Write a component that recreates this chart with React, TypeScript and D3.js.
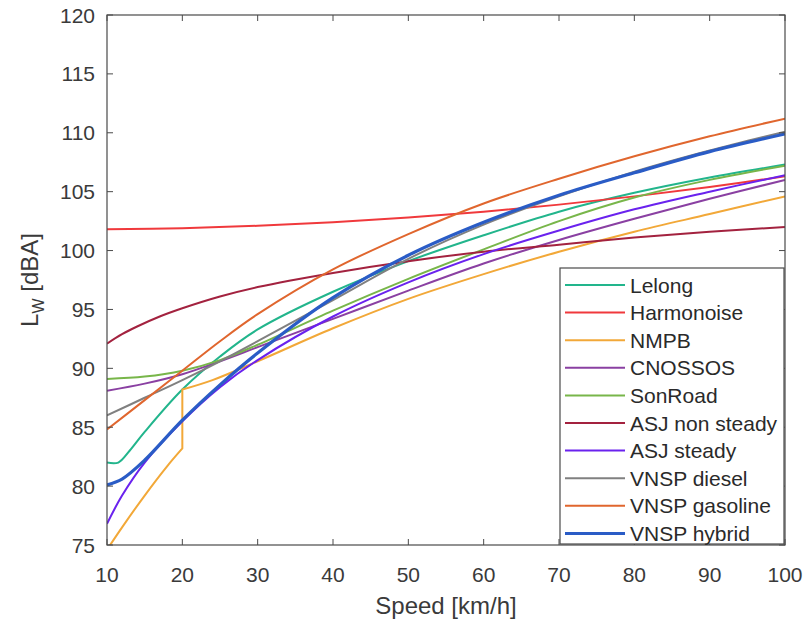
import React from 'react'
import * as d3 from 'd3'

type Pt = [number, number]

// [speed km/h, Lw dBA]
const lelong: Pt[] = [[10, 82.0], [11.5, 82.0], [13, 83.0], [15, 84.6], [20, 88.2], [25, 91.0], [30, 93.3], [40, 96.5], [50, 99.1], [60, 101.3], [70, 103.3], [80, 104.9], [90, 106.2], [100, 107.3]]
const harmonoise: Pt[] = [[10, 101.8], [20, 101.9], [30, 102.1], [40, 102.4], [50, 102.8], [60, 103.3], [70, 103.9], [80, 104.6], [90, 105.4], [100, 106.3]]
const nmpbLow: Pt[] = [[10, 74.6], [12, 76.5], [15, 79.2], [18, 81.7], [20, 83.2]]
const nmpbHigh: Pt[] = [[20, 88.2], [24, 89.0], [30, 90.6], [40, 93.4], [50, 95.9], [60, 98.0], [70, 99.9], [80, 101.6], [90, 103.1], [100, 104.6]]
const cnossos: Pt[] = [[10, 88.1], [15, 88.7], [20, 89.5], [25, 90.6], [30, 91.8], [40, 94.2], [50, 96.6], [60, 98.9], [70, 100.9], [80, 102.7], [90, 104.4], [100, 106.0]]
const sonRoad: Pt[] = [[10, 89.1], [15, 89.3], [20, 89.8], [25, 90.7], [30, 92.0], [40, 94.9], [50, 97.6], [60, 100.1], [70, 102.5], [80, 104.5], [90, 106.0], [100, 107.2]]
const asjNonSteady: Pt[] = [[10, 92.1], [12, 92.9], [14, 93.55], [17, 94.4], [20, 95.1], [25, 96.1], [30, 96.9], [40, 98.1], [50, 99.1], [60, 99.9], [70, 100.5], [80, 101.1], [90, 101.6], [100, 102.0]]
const asjSteady: Pt[] = [[10, 76.8], [12, 79.2], [15, 82.0], [20, 85.5], [25, 88.4], [30, 90.7], [40, 94.4], [50, 97.3], [60, 99.7], [70, 101.7], [80, 103.5], [90, 105.0], [100, 106.4]]
const vnspDiesel: Pt[] = [[10, 86.0], [15, 87.5], [20, 89.0], [25, 90.6], [30, 92.3], [40, 95.8], [50, 99.3], [60, 102.2], [70, 104.6], [80, 106.7], [90, 108.5], [100, 110.1]]
const vnspGasoline: Pt[] = [[10, 84.8], [15, 87.3], [20, 89.8], [25, 92.3], [30, 94.6], [40, 98.4], [50, 101.4], [60, 104.0], [70, 106.1], [80, 108.0], [90, 109.7], [100, 111.2]]
const vnspHybrid: Pt[] = [[10, 80.1], [12, 80.6], [15, 82.2], [20, 85.6], [25, 88.6], [30, 91.3], [40, 96.0], [50, 99.6], [60, 102.4], [70, 104.7], [80, 106.6], [90, 108.4], [100, 109.9]]

const seriesNames = ['Lelong', 'Harmonoise', 'NMPB', 'CNOSSOS', 'SonRoad', 'ASJ non steady', 'ASJ steady', 'VNSP diesel', 'VNSP gasoline', 'VNSP hybrid']
const seriesColors = ['#22b58c', '#f0393c', '#f2a838', '#8a40a2', '#78b64a', '#a3223f', '#6a22ee', '#808080', '#e0662e', '#2a5cc6']
const seriesData: Pt[][][] = [[lelong], [harmonoise], [nmpbLow, nmpbHigh], [cnossos], [sonRoad], [asjNonSteady], [asjSteady], [vnspDiesel], [vnspGasoline], [vnspHybrid]]

const xTicks = [10, 20, 30, 40, 50, 60, 70, 80, 90, 100]
const yTicks = [75, 80, 85, 90, 95, 100, 105, 110, 115, 120]

const W = 806
const H = 626
const m = {left: 107, right: 21, top: 15, bottom: 81}
const font = '"Liberation Sans", Arial, Helvetica, sans-serif'

export default function App() {
  const x = d3.scaleLinear().domain([10, 100]).range([m.left, W - m.right])
  const y = d3.scaleLinear().domain([75, 120]).range([H - m.bottom, m.top])
  const line = d3
    .line<Pt>()
    .x(d => x(d[0]))
    .y(d => y(d[1]))
    .curve(d3.curveCatmullRom.alpha(0.5))

  // segments are joined so a step (NMPB at 20 km/h) stays vertical
  const pathFor = (parts: Pt[][]) =>
    parts.map((p, i) => (i === 0 ? line(p) : (line(p) || '').replace(/^M/, 'L'))).join('')

  const x0 = x(10)
  const x1 = x(100)
  const y0 = y(75)
  const y1 = y(120)
  const axisColor = '#4a4a4a'
  const tickLen = 6

  // legend box
  const lg = {x: 560, y: 268, w: x1 - 560 - 1, h: y0 - 268 - 1}
  const rowH = 27.6

  return (
    <svg width={W} height={H} style={{position: 'absolute', left: 0, top: 0, background: '#fff'}} fontFamily={font}>
      <defs>
        <clipPath id="plot">
          <rect x={x0} y={y1} width={x1 - x0} height={y0 - y1} />
        </clipPath>
      </defs>
      <rect x={0} y={0} width={W} height={H} fill="#fff" />

      <g clipPath="url(#plot)" fill="none">
        {seriesData.map((parts, i) => (
          <path
            key={seriesNames[i]}
            d={pathFor(parts)}
            stroke={seriesColors[i]}
            strokeWidth={i === 9 ? 3.2 : 2}
            strokeLinejoin="round"
          />
        ))}
      </g>

      {/* axes box and inward ticks */}
      <rect x={x0} y={y1} width={x1 - x0} height={y0 - y1} fill="none" stroke={axisColor} strokeWidth={1.2} />
      {xTicks.map(t => (
        <g key={'x' + t}>
          <line x1={x(t)} x2={x(t)} y1={y0} y2={y0 - tickLen} stroke={axisColor} />
          <line x1={x(t)} x2={x(t)} y1={y1} y2={y1 + tickLen} stroke={axisColor} />
          <text x={x(t)} y={y0 + 37} textAnchor="middle" fontSize={21} fill="#3a3a3a">
            {t}
          </text>
        </g>
      ))}
      {yTicks.map(t => (
        <g key={'y' + t}>
          <line x1={x0} x2={x0 + tickLen} y1={y(t)} y2={y(t)} stroke={axisColor} />
          <line x1={x1} x2={x1 - tickLen} y1={y(t)} y2={y(t)} stroke={axisColor} />
          <text x={x0 - 12} y={y(t) + 7.5} textAnchor="end" fontSize={21} fill="#3a3a3a">
            {t}
          </text>
        </g>
      ))}

      <text x={(x0 + x1) / 2} y={614} textAnchor="middle" fontSize={24} fill="#3a3a3a">
        Speed [km/h]
      </text>
      <text transform={`translate(38,${(y0 + y1) / 2}) rotate(-90)`} textAnchor="middle" fontSize={24} fill="#3a3a3a">
        L
        <tspan fontSize={16} dy={6}>W</tspan>
        <tspan dy={-6}> [dBA]</tspan>
      </text>

      {/* legend */}
      <rect x={lg.x} y={lg.y} width={lg.w} height={lg.h} fill="#fff" stroke={axisColor} strokeWidth={1.2} />
      {seriesNames.map((name, i) => {
        const cy = lg.y + 17 + i * rowH
        return (
          <g key={'lg' + name}>
            <line x1={lg.x + 5} x2={lg.x + 65} y1={cy} y2={cy} stroke={seriesColors[i]} strokeWidth={i === 9 ? 3 : 2} />
            <text x={lg.x + 70} y={cy + 7.5} fontSize={21} fill="#2a2a2a">
              {name}
            </text>
          </g>
        )
      })}
    </svg>
  )
}
